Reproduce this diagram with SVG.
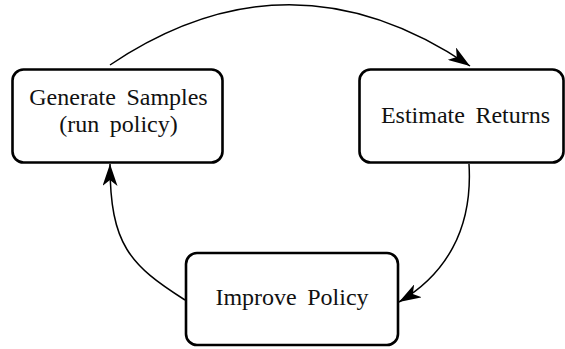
<svg xmlns="http://www.w3.org/2000/svg" width="565" height="349" viewBox="0 0 565 349">
<style>
.box{fill:#fff;stroke:#000;stroke-width:2.6}
.lbl{font-family:"Liberation Serif",serif;font-size:24px;word-spacing:4.5px;fill:#111;text-anchor:middle}
.edge{fill:none;stroke:#000;stroke-width:1.5}
</style>
<defs>
<marker id="ah" viewBox="0 0 22 15" refX="22" refY="7.5" markerWidth="22" markerHeight="15" markerUnits="userSpaceOnUse" orient="auto">
<path d="M0,0 L22,7.5 L0,15 L6,7.5 Z" fill="#000"/>
</marker>
</defs>
<g id="connectors">
<path class="edge" d="M110,65 Q290,-56 470,66" marker-end="url(#ah)"/>
<path class="edge" d="M469,164 C473,230 445,275 399,302" marker-end="url(#ah)"/>
<path class="edge" d="M185,300 C130,265 110,245 110,164" marker-end="url(#ah)"/>
</g>
<g id="generate">
<rect class="box" x="12.5" y="69.5" width="210" height="93" rx="11"/>
<text class="lbl" x="118.5" y="105">Generate Samples</text>
<text class="lbl" x="118.5" y="132">(run policy)</text>
</g>
<g id="estimate">
<rect class="box" x="359.5" y="69.5" width="204" height="93" rx="11"/>
<text class="lbl" x="465.5" y="123">Estimate Returns</text>
</g>
<g id="improve">
<rect class="box" x="186" y="253" width="212" height="92" rx="11"/>
<text class="lbl" x="292" y="305">Improve Policy</text>
</g>
</svg>
